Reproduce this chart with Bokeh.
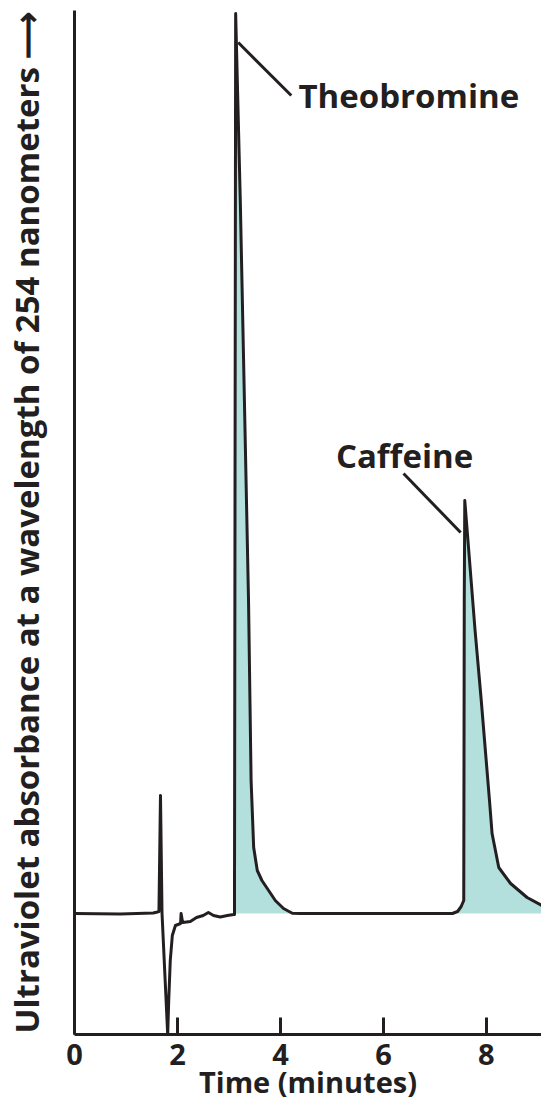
from bokeh.plotting import figure
from bokeh.models import FixedTicker, Range1d
from bokeh.core.properties import value
from bokeh.embed import file_html
from bokeh.resources import INLINE

# ---- data (time in minutes, absorbance in relative units) ----
trace_time = [0.00, 0.89, 1.53, 1.61, 1.64, 1.67, 1.70, 1.77, 1.81, 1.83, 1.86, 1.90,
              1.96, 2.06, 2.07, 2.10, 2.25, 2.37, 2.50, 2.60, 2.70, 2.83, 2.97, 3.09,
              3.107, 3.13, 3.22, 3.30, 3.38, 3.43, 3.48, 3.55, 3.64, 3.77, 3.90, 4.06,
              4.23, 4.39, 7.11, 7.34, 7.44, 7.51, 7.56, 7.57, 7.58, 7.78, 7.90, 8.06,
              8.11, 8.24, 8.47, 8.79, 9.15]
trace_abs = [0.00, -0.005, 0.005, 0.015, 0.02, 1.18, 0.00, -0.77, -1.21, -0.87, -0.47, -0.22,
             -0.12, -0.10, 0.00, -0.09, -0.08, -0.04, -0.02, 0.01, -0.02, -0.035, -0.02, -0.01,
             -0.01, 9.00, 7.13, 5.13, 3.13, 1.33, 0.66, 0.43, 0.33, 0.23, 0.13, 0.05,
             0.003, 0.00, 0.00, 0.00, 0.02, 0.07, 0.13, 3.13, 4.13, 2.83, 2.13, 1.13,
             0.80, 0.46, 0.30, 0.16, 0.06]

theo_time = [3.107, 3.13, 3.22, 3.30, 3.38, 3.43, 3.48, 3.55, 3.64, 3.77, 3.90, 4.06, 4.23, 4.39]
theo_abs = [0.00, 9.00, 7.13, 5.13, 3.13, 1.33, 0.66, 0.43, 0.33, 0.23, 0.13, 0.05, 0.003, 0.00]

caff_time = [7.44, 7.51, 7.56, 7.57, 7.58, 7.78, 7.90, 8.06, 8.11, 8.24, 8.47, 8.79, 9.15]
caff_abs = [0.02, 0.07, 0.13, 3.13, 4.13, 2.83, 2.13, 1.13, 0.80, 0.46, 0.30, 0.16, 0.06]

x_ticks = [0, 2, 4, 6, 8]
peak_names = ["Theobromine", "Caffeine"]
label_x = [4.35, 6.41]
label_y = [8.185, 4.58]
leader_x0 = [3.18, 6.39]
leader_y0 = [8.71, 4.40]
leader_x1 = [4.21, 7.50]
leader_y1 = [8.18, 3.81]

X_MAX = 9.07
Y_MIN, Y_MAX = -1.21, 9.03

INK = "#231f20"
FILL = "#b3e0dc"
FONT = "Open Sans"

p = figure(width=541, height=1103, output_backend="svg", toolbar_location=None,
           x_range=Range1d(0, X_MAX), y_range=Range1d(Y_MIN, Y_MAX),
           min_border_left=74, min_border_right=0, min_border_top=10, min_border_bottom=69)
p.outline_line_color = None
p.xgrid.visible = False
p.ygrid.visible = False
p.background_fill_color = "white"
p.border_fill_color = "white"

p.varea(x=theo_time, y1=0, y2=theo_abs, fill_color=FILL)
p.varea(x=caff_time, y1=0, y2=caff_abs, fill_color=FILL)
p.line(trace_time, trace_abs, line_color=INK, line_width=3, line_join="round")

p.segment(x0=leader_x0, y0=leader_y0, x1=leader_x1, y1=leader_y1, line_color=INK, line_width=3)
p.text(x=label_x[:1], y=label_y[:1], text=peak_names[:1], text_font=value(FONT),
       text_font_style="bold", text_font_size="33px", text_color=INK,
       text_align="left", text_baseline="middle")
p.text(x=label_x[1:], y=label_y[1:], text=peak_names[1:], text_font=value(FONT),
       text_font_style="bold", text_font_size="33px", text_color=INK,
       text_align="center", text_baseline="middle")

xa = p.xaxis[0]
xa.ticker = FixedTicker(ticks=x_ticks)
xa.minor_tick_line_color = None
xa.minor_tick_out = 0
xa.minor_tick_in = 0
xa.major_tick_in = 17
xa.major_tick_out = 0
xa.major_tick_line_width = 3
xa.major_tick_line_color = INK
xa.axis_line_width = 3
xa.axis_line_color = INK
xa.major_label_text_font = FONT
xa.major_label_text_font_style = "bold"
xa.major_label_text_font_size = "29px"
xa.major_label_text_color = INK
xa.major_label_standoff = 9
xa.axis_label = "Time (minutes)"
xa.axis_label_text_font = FONT
xa.axis_label_text_font_style = "bold"
xa.axis_label_text_font_size = "29px"
xa.axis_label_text_color = INK
xa.axis_label_standoff = -6

ya = p.yaxis[0]
ya.ticker = FixedTicker(ticks=[])
ya.minor_tick_line_color = None
ya.minor_tick_out = 0
ya.minor_tick_in = 0
ya.major_tick_line_color = None
ya.major_tick_out = 0
ya.major_tick_in = 0
ya.major_label_standoff = 0
ya.major_label_text_font_size = "0px"
ya.axis_line_width = 3
ya.axis_line_color = INK
ya.axis_label = "Ultraviolet absorbance at a wavelength of 254 nanometers \u27f6"
ya.axis_label_text_font = FONT
ya.axis_label_text_font_style = "bold"
ya.axis_label_text_font_size = "33px"
ya.axis_label_text_color = INK
ya.axis_label_standoff = 26

open("out.html", "w").write(file_html(p, INLINE))
